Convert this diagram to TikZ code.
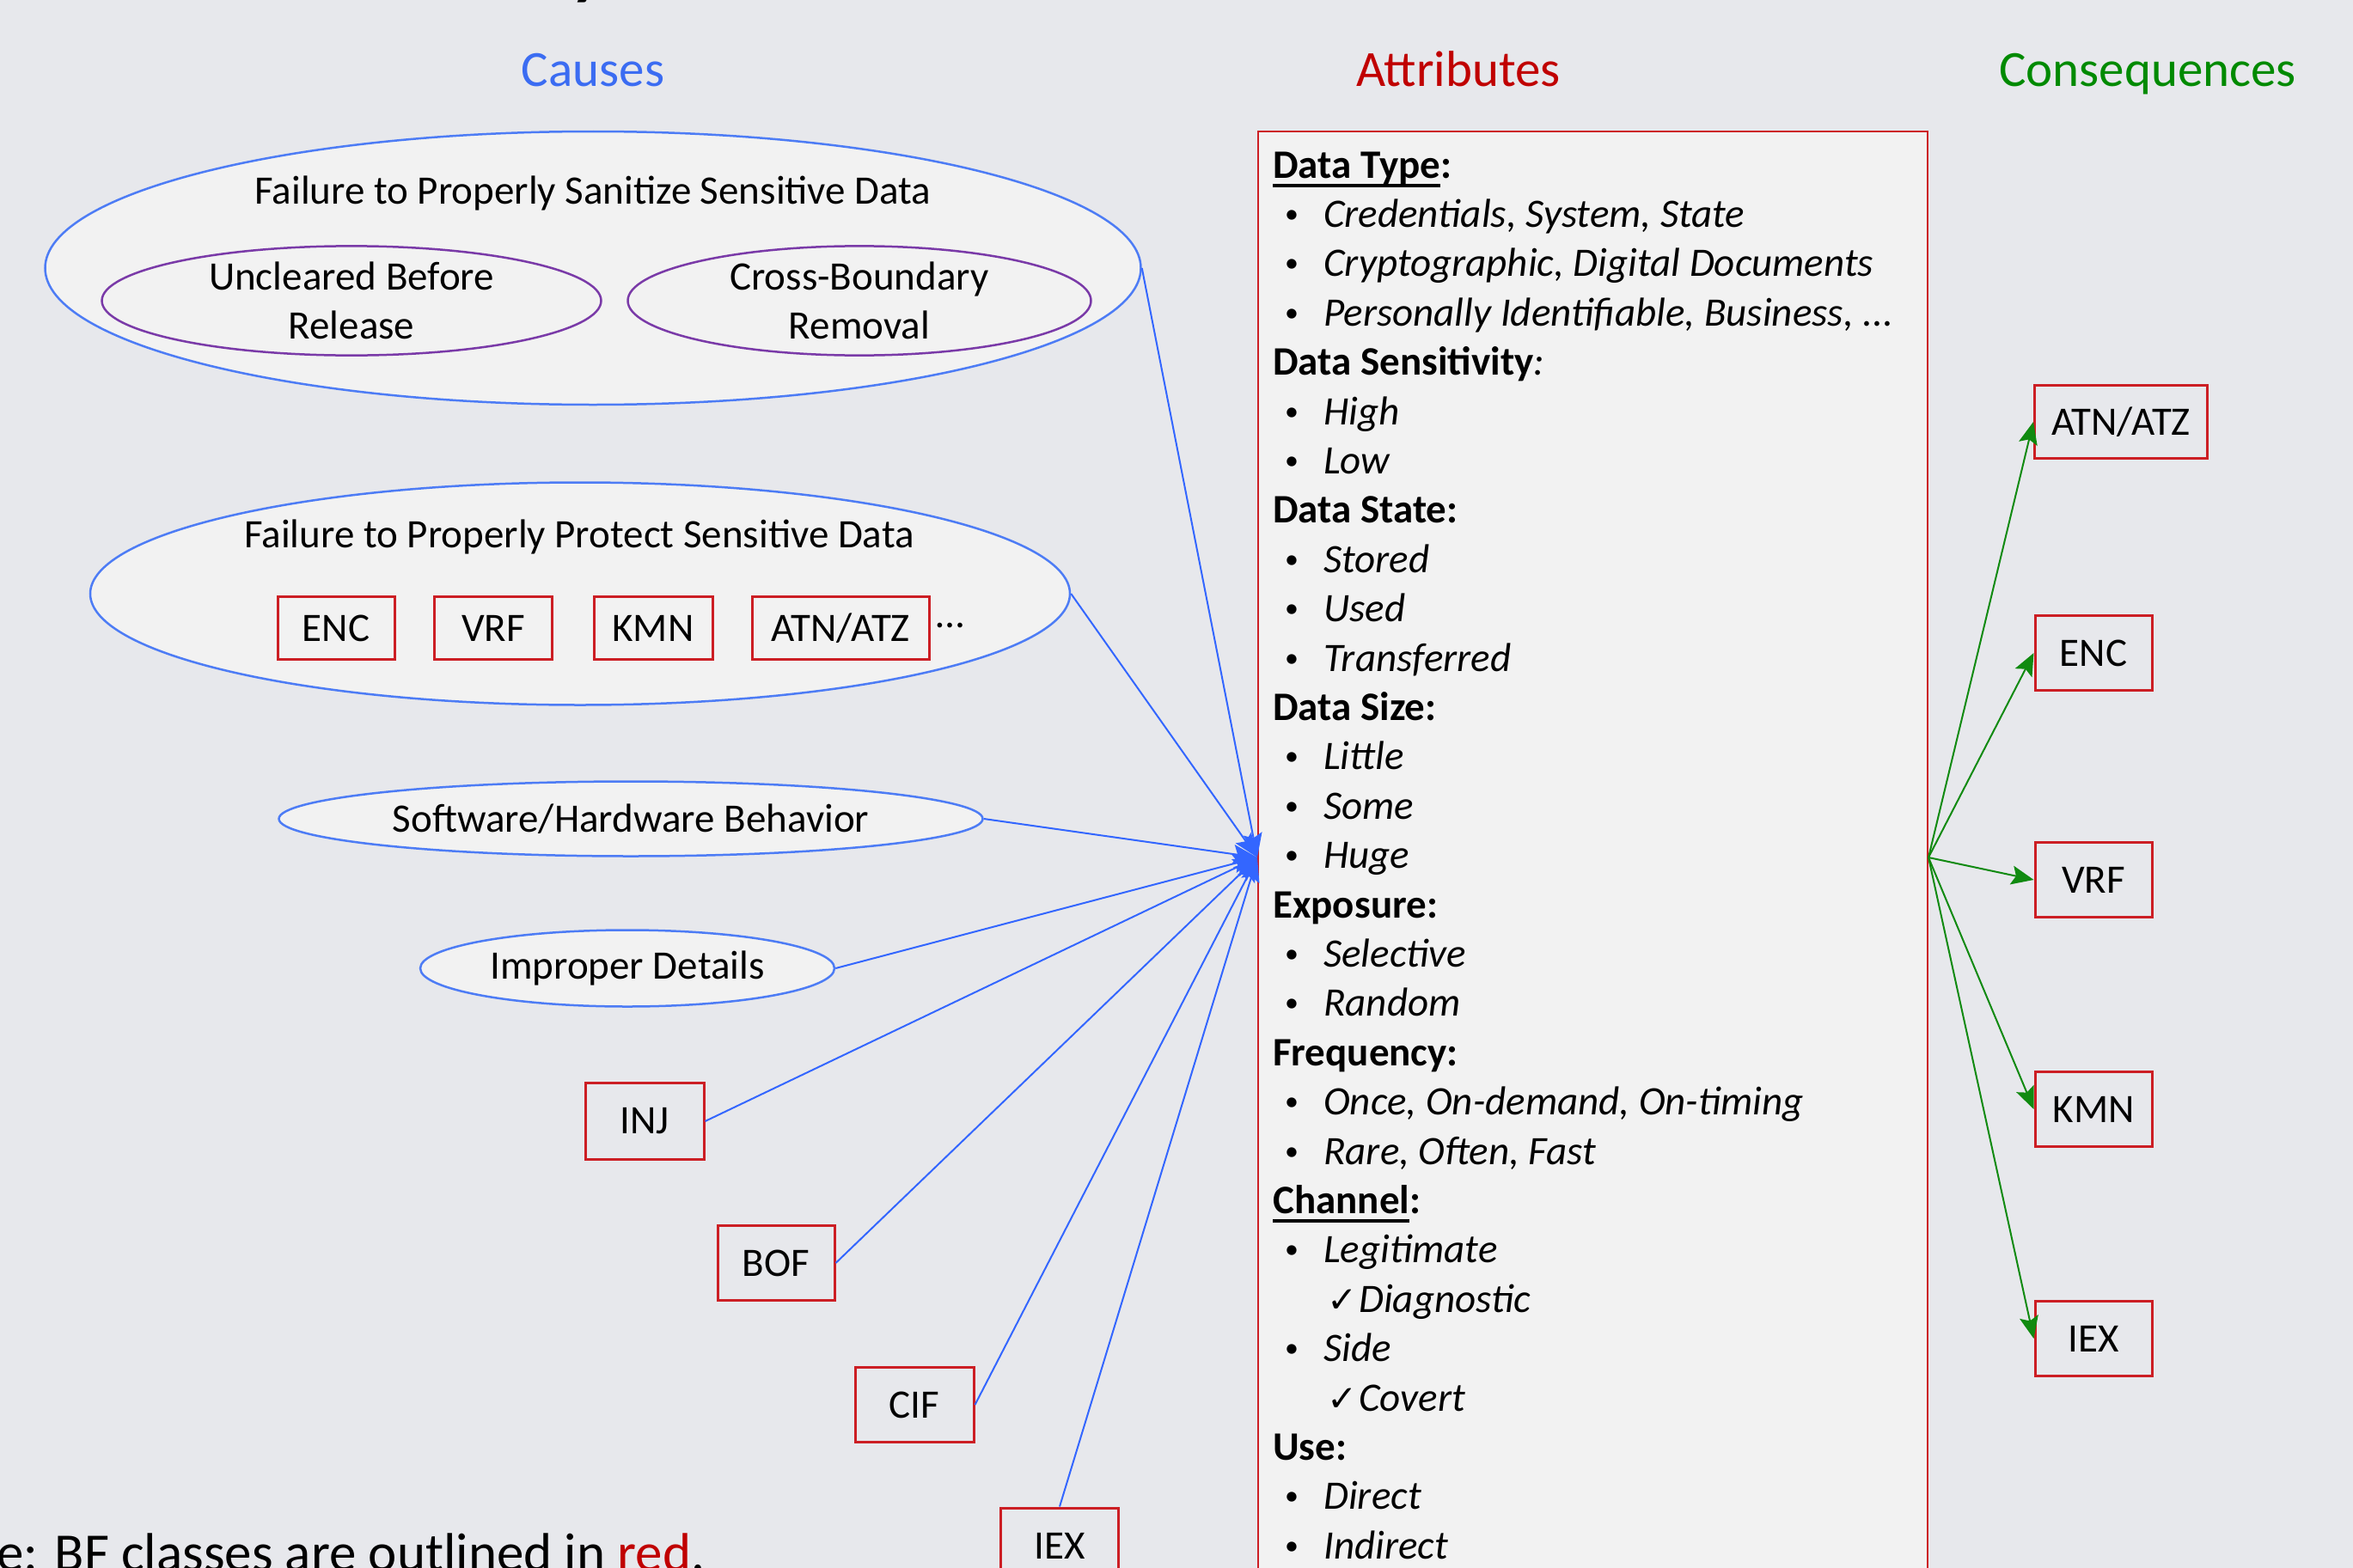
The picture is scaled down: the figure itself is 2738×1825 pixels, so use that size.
\documentclass[tikz,border=0pt]{standalone}
\usepackage{fontspec}
\setmainfont{Carlito}
\newfontfamily\symfont{DejaVu Sans}
\usetikzlibrary{shapes.geometric,arrows.meta}
\definecolor{bgcol}{HTML}{E7E8EC}
\definecolor{lightfill}{HTML}{F2F2F2}
\definecolor{causeblue}{HTML}{3B6CF2}
\definecolor{attrred}{HTML}{C00000}
\definecolor{consgreen}{HTML}{008A00}
\definecolor{elblue}{HTML}{4D7CF5}
\definecolor{lineblue}{HTML}{3366FF}
\definecolor{linegreen}{HTML}{108A10}
\definecolor{boxred}{HTML}{CC1E24}
\definecolor{purp}{HTML}{7A3AA8}
\newcommand\myul[1]{\setbox0=\hbox{#1}\rlap{\rule[-11pt]{\wd0}{4.5pt}}\box0}
\newcommand\attritem[1]{\hspace*{14pt}\makebox[45pt][l]{\raisebox{5pt}{\fontsize{32}{32}\selectfont\textbullet}}\textit{#1}}
\newcommand\attrchk[1]{\hspace*{63pt}\makebox[37pt][l]{\symfont\fontsize{42}{48}\selectfont ✓}\textit{#1}}
\newcommand\aline[2]{\node[attrtxt] (a#1) at (1481,{207+57.4*#1}) {#2};}
\begin{document}
\begin{tikzpicture}[x=1pt,y=-1pt,
  every node/.style={inner sep=0pt, font=\fontsize{47}{57}\selectfont},
  ttl/.style={anchor=base, font=\fontsize{59}{70}\selectfont},
  ell/.style={ellipse, draw=elblue, line width=2.5pt, fill=lightfill},
  pell/.style={ellipse, draw=purp, line width=2.5pt, align=center},
  rbox/.style={draw=boxred, line width=3pt},
  barrow/.style={draw=lineblue, line width=2pt, -{Stealth[length=28pt,width=22pt,inset=5pt]}},
  garrow/.style={draw=linegreen, line width=2pt, -{Stealth[length=26pt,width=22pt,inset=5pt]}},
  attrtxt/.style={anchor=base west}
]
\useasboundingbox (0,0) rectangle (2738,1825);
\clip (0,0) rectangle (2738,1825);
\fill[bgcol] (0,0) rectangle (2738,1825);

% cut-off title fragment
\node[anchor=base west, font=\bfseries\fontsize{80}{96}\selectfont] (topfrag) at (664,-9) {y};

% column titles
\node[ttl, text=causeblue] (tcauses) at (690,101) {Causes};
\node[ttl, text=attrred] (tattr) at (1697,101) {Attributes};
\node[ttl, text=consgreen] (tcons) at (2499,101) {Consequences};

% causes
\node[ell, minimum width=1275pt, minimum height=318pt] (san) at (690,312) {};
\node (santxt) at (690,225) {Failure to Properly Sanitize Sensitive Data};
\node[pell, minimum width=581pt, minimum height=124pt] (unc) at (409,350) {Uncleared Before\\Release};
\node[pell, minimum width=539pt, minimum height=124pt] (cbr) at (1000,350) {Cross-Boundary\\Removal};

\node[ell, minimum width=1140pt, minimum height=259pt] (pro) at (675,691) {};
\node (protxt) at (674,625) {Failure to Properly Protect Sensitive Data};
\node[rbox, minimum width=136pt, minimum height=73pt] (penc) at (391,731) {ENC};
\node[rbox, minimum width=137pt, minimum height=73pt] (pvrf) at (574,731) {VRF};
\node[rbox, minimum width=138pt, minimum height=73pt] (pkmn) at (760,731) {KMN};
\node[rbox, minimum width=206pt, minimum height=73pt] (patn) at (978,731) {ATN/ATZ};
\node (pdots) at (1106,728) {…};

\node[ell, minimum width=819pt, minimum height=87pt] (swhw) at (734,953) {Software/Hardware Behavior};
\node[ell, minimum width=482pt, minimum height=89pt] (imp) at (730,1127) {Improper Details};
\node[rbox, minimum width=138pt, minimum height=89pt] (inj) at (750,1305) {INJ};
\node[rbox, minimum width=136pt, minimum height=87pt] (bof) at (903,1470) {BOF};
\node[rbox, minimum width=138pt, minimum height=87pt] (cif) at (1064,1635) {CIF};
\node[rbox, minimum width=137pt, minimum height=88pt] (iexc) at (1233,1799) {IEX};

% attributes
\node[draw=boxred, line width=2pt, fill=lightfill, minimum width=779pt, minimum height=1690pt, anchor=north west] (attr) at (1463,152) {};
\aline{0}{\textbf{\myul{Data Type}:}}
\aline{1}{\attritem{Credentials, System, State}}
\aline{2}{\attritem{Cryptographic, Digital Documents}}
\aline{3}{\attritem{Personally Identifiable, Business, ...}}
\aline{4}{\textbf{Data Sensitivity}\textit{:}}
\aline{5}{\attritem{High}}
\aline{6}{\attritem{Low}}
\aline{7}{\textbf{Data State:}}
\aline{8}{\attritem{Stored}}
\aline{9}{\attritem{Used}}
\aline{10}{\attritem{Transferred}}
\aline{11}{\textbf{Data Size:}}
\aline{12}{\attritem{Little}}
\aline{13}{\attritem{Some}}
\aline{14}{\attritem{Huge}}
\aline{15}{\textbf{Exposure:}}
\aline{16}{\attritem{Selective}}
\aline{17}{\attritem{Random}}
\aline{18}{\textbf{Frequency:}}
\aline{19}{\attritem{Once, On-demand, On-timing}}
\aline{20}{\attritem{Rare, Often, Fast}}
\aline{21}{\textbf{\myul{Channel}:}}
\aline{22}{\attritem{Legitimate}}
\aline{23}{\attrchk{Diagnostic}}
\aline{24}{\attritem{Side}}
\aline{25}{\attrchk{Covert}}
\aline{26}{\textbf{Use:}}
\aline{27}{\attritem{Direct}}
\aline{28}{\attritem{Indirect}}

% consequences
\node[rbox, minimum width=201pt, minimum height=85pt] (catn) at (2468,491) {ATN/ATZ};
\node[rbox, minimum width=136pt, minimum height=87pt] (cenc) at (2436,760) {ENC};
\node[rbox, minimum width=136pt, minimum height=87pt] (cvrf) at (2436,1024) {VRF};
\node[rbox, minimum width=136pt, minimum height=87pt] (ckmn) at (2436,1291) {KMN};
\node[rbox, minimum width=136pt, minimum height=87pt] (ciex) at (2436,1558) {IEX};

% cause arrows
\draw[barrow] (san.east) -- (attr.west);
\draw[barrow] (pro.east) -- (attr.west);
\draw[barrow] (swhw.east) -- (attr.west);
\draw[barrow] (imp.east) -- (attr.west);
\draw[barrow] (inj.east) -- (attr.west);
\draw[barrow] (bof.east) -- (attr.west);
\draw[barrow] (cif.east) -- (attr.west);
\draw[barrow] (iexc.north) -- (attr.west);

% consequence arrows
\draw[garrow] (attr.east) -- (catn.west);
\draw[garrow] (attr.east) -- (cenc.west);
\draw[garrow] (attr.east) -- (cvrf.west);
\draw[garrow] (attr.east) -- (ckmn.west);
\draw[garrow] (attr.east) -- (ciex.west);

% note
\node[anchor=base west, font=\fontsize{63}{75}\selectfont] (note) at (-98,1828) {Note: BF classes are outlined in \textcolor{attrred}{red}.};
\end{tikzpicture}
\end{document}
